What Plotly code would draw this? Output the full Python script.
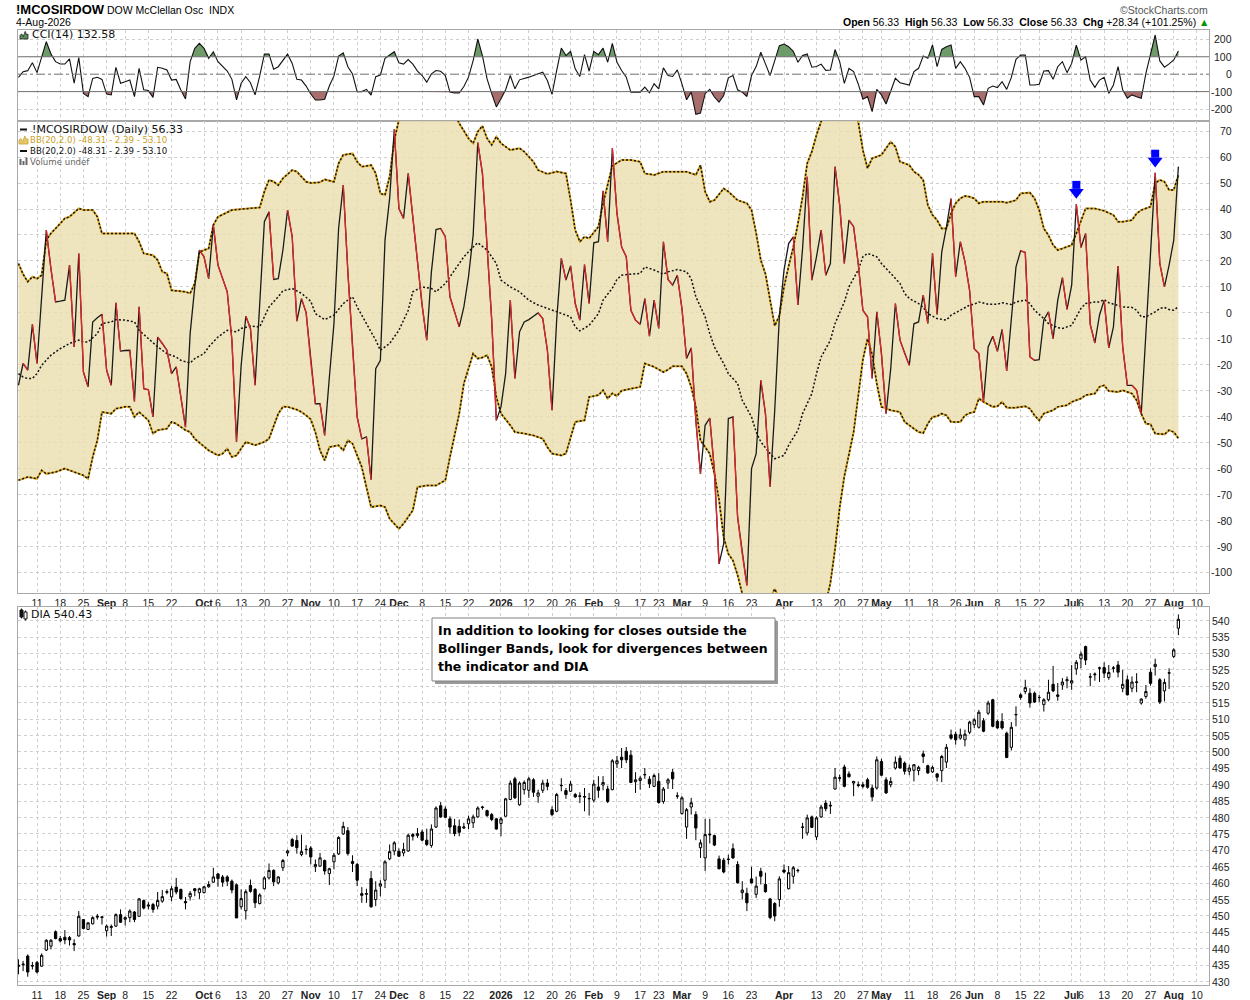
import pandas as pd
import plotly.graph_objects as go

# --- Canvas & margins (px) ---
W, H = 1250, 1000
ML, MR, MT, MB = 18, 41, 30, 15
PW, PH = W - ML - MR, H - MT - MB

# --- Trading calendar (NYSE holidays removed) ---
HOLIDAYS = ['2025-09-01', '2025-11-27', '2025-12-25', '2026-01-01', '2026-01-19',
            '2026-02-16', '2026-04-03', '2026-05-25', '2026-06-19', '2026-07-03']
CALENDAR = [d for d in pd.bdate_range('2025-08-05', '2026-08-14').strftime('%Y-%m-%d')
            if d not in HOLIDAYS]

TICK_DATES = ['2025-08-11', '2025-08-18', '2025-08-25', '2025-09-02', '2025-09-08', '2025-09-15',
              '2025-09-22', '2025-10-01', '2025-10-06', '2025-10-13', '2025-10-20', '2025-10-27',
              '2025-11-03', '2025-11-10', '2025-11-17', '2025-11-24', '2025-12-01', '2025-12-08',
              '2025-12-15', '2025-12-22', '2026-01-02', '2026-01-12', '2026-01-20', '2026-01-26',
              '2026-02-02', '2026-02-09', '2026-02-17', '2026-02-23', '2026-03-02', '2026-03-09',
              '2026-03-16', '2026-03-23', '2026-04-01', '2026-04-13', '2026-04-20', '2026-04-27',
              '2026-05-01', '2026-05-11', '2026-05-18', '2026-05-26', '2026-06-01', '2026-06-08',
              '2026-06-15', '2026-06-22', '2026-07-01', '2026-07-06', '2026-07-13', '2026-07-20',
              '2026-07-27', '2026-08-03', '2026-08-10']
TICK_LABELS = ['11', '18', '25', '<b>Sep</b>', '8', '15', '22', '<b>Oct</b>', '6', '13', '20', '27',
               '<b>Nov</b>', '10', '17', '24', '<b>Dec</b>', '8', '15', '22', '<b>2026</b>', '12', '20',
               '26', '<b>Feb</b>', '9', '17', '23', '<b>Mar</b>', '9', '16', '23', '<b>Apr</b>', '13',
               '20', '27', '<b>May</b>', '11', '18', '26', '<b>Jun</b>', '8', '15', '22', '<b>Jul</b>',
               '6', '13', '20', '27', '<b>Aug</b>', '10']

Y_TICKS_CCI = [200, 100, 0, -100, -200]
Y_TICKS_OSC = list(range(70, -101, -10))
Y_TICKS_DIA = list(range(540, 429, -5))

# --- McClellan Oscillator (daily close) ---
OSC = [-27.9, -19.5, -22.1, -4.4, -19.5, 8, 31.9, 17, 4.2, 4.5,
       4.9, 18.4, -13.1, 22.9, -22.8, -28.5, -3.5, -1.9, -0.5, -22.1,
       -27.9, 3.9, -14.7, -14.5, -14.4, -34.1, 2.3, -29.2, -29.6, -40.1,
       -9.3, -11.8, -14.4, -23.4, -20.8, -32.4, -44, -8, 10, 24.2,
       21.6, 13.2, 33.8, 18.4, 13.2, 8.1, -10.5, -49.7, -20.2, -1.3,
       -6, -27.9, 3.6, 35.1, 38.9, 12.9, 13.2, 24.2, 39.6, 29.3,
       -3.2, 5.5, 0.1, -19, -35, -35, -47.2, -25, -4.1, 32.5,
       49.2, 15.7, -13.4, -40.1, -48.5, -47.8, -64.3, -21.5, -18.3, 28,
       44.1, 70.7, 40.2, 36.4, 53.7, 36.8, 19.8, 3, -10.5, 15.8,
       32.1, 32.5, 29.3, 6.2, 0.4, -5.4, 2.3, 13.9, 29.9, 65.6,
       53.7, 26.1, -2.8, -41.4, -36.2, -23.4, 4.9, -25.3, -7.3, -3.5,
       -2.6, -1.3, 0, -2.2, -14.4, -37.5, -2.8, 21, 12.6, 18.1,
       3.6, -2.8, 18.6, 3.6, 27, 27.4, 47, 27.4, 63.4, 38.3,
       25.4, 21.6, 1, -2.8, -4.4, 5.5, -9, 4.9, -6, 27.4,
       12.9, 10.7, 14.5, 1.7, -17.6, -13.5, -41.4, -62, -43.3, -40.5,
       -60.7, -96.7, -88.9, -40.7, -40.1, -78.7, -92.8, -105, -60, -54.2,
       -26, -38.8, -67, -37.5, -1.5, 16.5, 26.7, 29.3, 3, 24.8,
       52.4, 12.6, 21.6, 31.9, 14.5, 19, 56.3, 41.5, 19, 35.7,
       33.2, 19, 1, -1.5, -25.3, 0.4, -15.7, -38.8, -21.5, 3.6,
       -10.5, -15.7, -20.2, -4.2, -3.5, 6.8, -4.1, 22.9, -0.6, 23.5,
       32.9, 44, 13.9, 27.4, 19.7, 8.7, -13.8, -15.7, -34.3, -13.1,
       -9, -14.8, -6.4, -22.4, -2.8, 17.7, 23.9, 23.3, -17, -18.3,
       -18, -2.6, 0.4, -9.9, 4.9, 13.6, 1.3, 10.7, 41.8, 25.2,
       30.6, -4.4, -11.6, -0.9, 4.9, -13.5, -5.4, 18, -13.1, -27.9,
       -27.9, -29.8, -38.8, -8, 23, 54, 19, 10, 18.4, 28,
       56.33]

# --- Bollinger Bands (20,2): (trading-day index, value) ---
BB_UPPER = [(0, 19), (1, 14.9), (2, 12), (3, 13.9), (4, 13.2), (5, 14.5), (6, 28), (7, 30.6), (9, 34.4),
            (10, 36.4), (11, 37), (13, 40.2), (14, 39.6), (16, 39.6), (17, 37), (18, 30.6), (20, 30.6),
            (25, 30.6), (26, 27.4), (27, 22.9), (29, 22.2), (30, 20.3), (31, 15.8), (32, 15.2), (33, 8.7),
            (36, 8.1), (37, 7.5), (38, 11.3), (39, 23.5), (41, 24.8), (42, 33.8), (43, 37), (46, 39.6),
            (49, 40.2), (52, 40.6), (53, 46.7), (54, 51.2), (55, 50.5), (56, 49.2), (57, 51.8), (59, 55),
            (60, 54.4), (61, 52.4), (62, 50.5), (63, 50), (65, 50.3), (66, 51.4), (68, 50.5), (69, 57.6),
            (70, 60.8), (72, 61.4), (73, 58.2), (74, 56.3), (76, 56.9), (77, 53.7), (78, 46), (79, 45.4),
            (80, 52.4), (81, 66.6), (82, 74.3), (84, 80), (86, 85), (88, 88), (91, 86), (93, 80), (95, 73),
            (97, 67.2), (98, 65.3), (99, 69.8), (100, 72), (101, 67.2), (102, 64.7), (103, 67.9),
            (104, 65.3), (106, 62.7), (108, 63.4), (109, 62.1), (111, 58.2), (112, 55), (114, 53.5),
            (116, 54.4), (118, 53.7), (119, 43.4), (120, 31.9), (121, 27.4), (122, 29.3), (123, 28.7),
            (125, 33.2), (126, 42.2), (127, 49), (128, 56.6), (130, 58.9), (132, 58.9), (134, 58.2),
            (135, 53.7), (137, 53.1), (139, 54.4), (142, 54.4), (144, 54.4), (146, 53.1), (147, 56.9),
            (148, 46.7), (149, 42.8), (150, 43.4), (152, 47.9), (153, 46.7), (155, 43.4), (157, 42.2),
            (158, 39.6), (159, 30.6), (160, 20.3), (161, 15), (162, 5), (163, -5), (164, -1), (165, 10),
            (166, 18), (167, 25.4), (168, 34.4), (169, 44.7), (170, 57.6), (171, 62.1), (172, 68.5),
            (173, 73.7), (175, 80), (177, 83), (179, 80), (181, 73.7), (182, 62.7), (183, 55.7),
            (184, 59.5), (186, 60.8), (187, 63.4), (188, 65.9), (189, 64), (190, 58.2), (191, 57.6),
            (192, 56.9), (193, 54.4), (194, 53.2), (195, 51.2), (196, 41.5), (197, 37.7), (198, 35.7),
            (199, 32.5), (200, 32.5), (201, 38.3), (202, 42.2), (203, 44.1), (204, 45), (205, 44.7),
            (206, 44.1), (207, 42.2), (208, 42.8), (210, 42.8), (212, 42.8), (213, 42.4), (214, 42.8),
            (215, 43.4), (216, 46), (218, 46.3), (219, 44.1), (220, 39.6), (221, 32.5), (222, 29.9),
            (223, 26.1), (224, 24.2), (225, 24.8), (227, 26.1), (228, 30.6), (229, 35.7), (230, 40.2),
            (232, 40.2), (233, 39.6), (234, 39.3), (236, 37.7), (237, 35.1), (238, 35.1), (240, 35.7),
            (241, 38.3), (242, 39.6), (244, 40.9), (245, 49.9), (246, 51.2), (247, 50.5), (248, 47.3),
            (249, 47.3), (250, 53.1)]

BB_MIDDLE = [(0, -23.4), (1, -24.7), (2, -25.3), (3, -25.3), (4, -23.4), (5, -20.2), (7, -16.3), (9, -13.8),
             (11, -11.8), (13, -10.5), (14, -11.2), (15, -11.2), (17, -8), (18, -4.1), (20, -3.5),
             (21, -2.6), (23, -2.8), (25, -3.5), (26, -6.7), (28, -9.9), (29, -11.8), (30, -13.1),
             (32, -15.7), (34, -17), (35, -18.3), (37, -19.3), (38, -17.6), (40, -15.7), (41, -13.1),
             (43, -9.3), (45, -6.7), (47, -7.3), (48, -6), (50, -5.1), (52, -5.4), (53, -1.5), (54, 2.3),
             (56, 6.2), (57, 8.5), (59, 9.4), (61, 7.5), (63, 4.5), (64, -0.3), (66, -2.6), (68, -0.9),
             (70, 3.6), (72, 6.2), (73, 2.3), (75, -4.1), (77, -10.5), (78, -14.4), (80, -11.8),
             (82, -6.7), (84, 1), (85, 8.1), (87, 10), (89, 9.4), (90, 8.1), (92, 11.3), (94, 16.5),
             (96, 21.6), (98, 25.4), (99, 27), (101, 24.2), (103, 19), (104, 12.6), (106, 10), (108, 8.1),
             (110, 4.9), (112, 3), (115, 1), (117, -0.3), (119, -1.5), (120, -5.4), (121, -6.9),
             (123, -4.8), (125, -0.3), (126, 4.9), (128, 9.5), (129, 12.9), (130, 14.5), (132, 14.9),
             (134, 15.2), (135, 17.7), (137, 16.5), (139, 14.9), (140, 15.8), (142, 16.7), (144, 15.8),
             (145, 13.2), (146, 6.2), (148, -1.5), (149, -8), (150, -13.1), (152, -19.5), (153, -23.4),
             (155, -27.2), (156, -33.7), (158, -40.1), (159, -45.9), (160, -49.7), (162, -54.2),
             (163, -56.2), (165, -54.9), (166, -51), (168, -45.2), (169, -38.8), (171, -31.1),
             (172, -23.4), (173, -17), (175, -10.5), (176, -4.1), (178, 4.2), (179, 10), (181, 16.5),
             (182, 21.6), (183, 22.9), (185, 21.6), (186, 19), (188, 15.2), (190, 11.3), (191, 7.5),
             (192, 5.5), (194, 3.6), (195, 2.1), (196, -0.3), (198, -2.2), (200, -2.8), (201, -0.9),
             (203, 1), (205, 3), (206, 3.3), (207, 4.2), (209, 3.3), (211, 3.3), (212, 3.9), (214, 3.2),
             (215, 4.2), (217, 4.9), (218, 3.6), (219, 1), (221, -2.2), (222, -4.1), (224, -5.7),
             (225, -6), (227, -4.8), (228, -1.5), (229, 1.7), (230, 3.6), (232, 4.2), (233, 4.2),
             (234, 5.1), (235, 3.9), (237, 3), (238, 2.3), (240, 2.1), (241, 1), (242, -1.5), (243, -1.5),
             (245, 0.4), (246, 1.7), (247, 2.1), (248, 1.3), (249, 1), (250, 2.39)]

BB_LOWER = [(0, -64.5), (1, -63.9), (2, -63.2), (4, -63.9), (5, -60.7), (6, -62), (8, -61.3), (10, -60),
            (12, -61.3), (14, -62.6), (15, -63.9), (16, -55.5), (17, -49.1), (18, -38.2), (20, -38.8),
            (21, -36.9), (23, -36.2), (24, -36.2), (25, -40.1), (26, -38.2), (28, -41.4), (29, -46.5),
            (30, -45.2), (32, -44.6), (33, -42), (34, -42.7), (36, -45.2), (37, -45.9), (38, -48.5),
            (40, -51.7), (41, -53), (43, -54.9), (44, -54.2), (45, -52.3), (46, -55.5), (47, -54.9),
            (48, -52.3), (49, -49.7), (51, -51), (53, -49.7), (54, -48.5), (56, -38.8), (57, -36.2),
            (58, -36.2), (60, -37.3), (61, -38.2), (62, -39.5), (63, -41), (64, -46), (65, -53),
            (66, -56.8), (67, -51.7), (69, -51), (70, -53), (71, -49.1), (72, -50.4), (74, -59.4),
            (75, -67.1), (76, -74.8), (78, -74.2), (79, -74.8), (80, -79.3), (82, -83.2), (83, -81.2),
            (85, -76.1), (86, -67.1), (88, -66.5), (90, -66.5), (92, -64.5), (93, -55.5), (95, -38.8),
            (96, -27.2), (98, -15.7), (99, -17.6), (100, -17.2), (101, -16.3), (102, -20.8), (103, -32.4),
            (104, -38.8), (106, -43.3), (107, -45.9), (109, -46.5), (111, -47.2), (113, -48.5),
            (114, -51.7), (115, -54.2), (117, -54.9), (118, -54.2), (119, -47.8), (120, -42), (122, -41.4),
            (123, -32.4), (125, -31.7), (126, -29.8), (127, -33), (128, -31), (129, -32), (130, -30),
            (132, -29.2), (134, -28.5), (135, -19.5), (137, -20.8), (139, -22.8), (140, -21.9),
            (141, -20.6), (143, -20.6), (144, -23.4), (145, -28.5), (146, -36.2), (147, -49.1),
            (148, -51.7), (149, -54.2), (150, -62), (151, -72), (152, -86.4), (153, -92.8), (154, -95.4),
            (155, -101), (156, -108.2), (158, -114), (160, -114), (162, -110), (163, -106.3), (164, -110),
            (166, -120), (168, -127), (170, -127), (172, -122), (174, -112), (175, -104), (176, -91),
            (177, -75), (178, -63), (179, -55), (180, -46), (181, -32), (182, -18), (183, -10), (184, -16),
            (185, -27.2), (186, -36.2), (188, -37.5), (190, -38.2), (191, -42), (193, -44.6), (194, -45.9),
            (195, -46.3), (196, -42.7), (197, -40.1), (198, -39.8), (199, -38.8), (200, -39.5), (201, -42),
            (203, -42), (204, -39.5), (205, -38.6), (206, -38.2), (207, -33), (208, -34.3), (210, -36.2),
            (211, -36), (212, -34.3), (213, -36.5), (215, -36.5), (217, -36), (218, -36.9), (219, -39.5),
            (220, -41.4), (221, -38.8), (223, -37.5), (224, -36.2), (226, -35.6), (227, -34.3), (229, -33),
            (230, -31.7), (232, -31.1), (233, -28.5), (234, -27.9), (235, -30.1), (237, -30.5),
            (238, -29.8), (240, -31.1), (241, -33.7), (242, -38.8), (243, -42.7), (244, -42.9),
            (245, -46.5), (247, -46.8), (248, -45.2), (249, -45.9), (250, -48.31)]

# --- CCI(14) ---
CCI = [-18, 14.5, 20.3, 66, 9, 101, 187, 116, 72, 58.5,
       58.5, 88, -52, 95, -110, -129, -24, -18, -29.8, -114,
       -119, 39.4, -52, -43, -33.7, -129, 33.3, -90, -94, -133,
       39.4, 33.7, 24, -33.7, -30, -91, -142, 71, 148, 177,
       148, 91, 129, 72, 47, 18.4, -29.5, -148, -52, -14.5,
       -48.9, -119, -10, 115, 115, 28.9, 43, 81, 115, 62,
       -29.8, -33.7, -68, -114, -148, -148, -144, -68, -10, 104,
       123, 43, 1, -100, -100, -87, -120, -14.5, -4.6, 91,
       110, 129, 65, 58, 84, 58, 18, -7.6, -45.7, 1.9,
       21, 17, -7.6, -103, -108, -108, -70.5, -17, 78, 202,
       107, -26.7, -112, -188, -141, -89.5, -7.6, -84, -32.4, -26.7,
       -17, -7.6, 1.9, 11.4, -36.2, -116, 21, 150, 107, 131,
       30.5, -13.3, 112, 17, 131, 112, 150, 68.6, 177, 68.6,
       21, -17, -103, -103, -103, -74.3, -106, -55.2, -83.8, 36.2,
       -7.6, -13.3, 24.8, -55.2, -147, -103, -230, -223, -112, -87.6,
       -131, -160, -122, -21, -7.6, -89.5, -103, -128, -7.6, 43.8,
       126, 59, -7.6, 78, 164, 173, 158, 131, 68.6, 107,
       116, 40, 43.8, 58, 22, 24, 141.6, 72, -52.8, 33,
       14.5, -56, -144, -129, -215, -87, -119, -171, -94, -23.7,
       -48.6, -56, -62, 14.5, 33.7, 104, 91, 168, 43, 142,
       158, 168, 33.7, 72, 33.7, -18, -129, -129, -177, -81,
       -68, -77, -43, -87, -18, 85, 110, 110, -62, -62,
       -58, 18.4, 20.3, -29.5, 43, 72, 8.8, 62, 167, 81,
       100, -33.7, -75.8, -33.7, -18, -110, -62, 43, -90, -138,
       -119, -129, -138, 5, 120, 225, 76, 40.4, 59, 82,
       132.58]

# --- DIA daily OHLC ---
DIA_OPEN = [435.0, 435.1, 437.8, 434.7, 435.8, 434.7, 439.6, 440.8, 445.2, 443.1,
            443.5, 443.4, 441.6, 443.9, 448.9, 445.9, 447.6, 449.9, 449.5, 445.5,
            446.5, 446.9, 450.4, 449.0, 449.5, 451.2, 449.9, 454.7, 453.0, 453.5,
            453.0, 454.5, 457.2, 455.8, 458.8, 458.1, 454.4, 455.8, 458.3, 457.1,
            457.1, 458.9, 460.3, 462.8, 461.9, 461.9, 460.6, 459.5, 452.8, 451.6,
            459.3, 458.1, 453.8, 458.3, 461.6, 463.9, 460.1, 464.7, 469.2, 473.3,
            473.0, 468.7, 470.2, 470.7, 465.0, 465.2, 466.9, 462.9, 466.5, 468.9,
            475.0, 476.0, 466.6, 465.7, 456.8, 456.6, 461.4, 455.0, 459.1, 460.9,
            467.4, 469.8, 469.7, 469.2, 469.8, 474.8, 474.5, 475.6, 473.1, 471.5,
            477.1, 483.6, 482.6, 479.6, 477.5, 477.3, 476.8, 478.1, 478.4, 480.2,
            483.2, 482.1, 480.9, 479.6, 478.2, 480.4, 485.5, 491.8, 483.9, 488.5,
            488.3, 491.5, 486.5, 488.3, 490.5, 482.4, 481.9, 489.7, 488.2, 488.0,
            487.0, 486.6, 486.2, 485.7, 485.3, 489.3, 489.9, 488.7, 488.5, 496.4,
            498.4, 500.2, 499.0, 490.9, 491.3, 493.0, 491.7, 489.5, 491.0, 484.9,
            490.5, 493.8, 486.5, 481.2, 477.1, 483.2, 480.9, 470.8, 467.7, 474.7,
            474.5, 467.4, 467.0, 467.2, 470.5, 465.7, 457.1, 456.9, 461.3, 456.6,
            463.6, 459.6, 455.2, 453.8, 455.0, 464.0, 458.3, 462.1, 463.8, 477.0,
            475.3, 480.2, 474.1, 480.2, 484.4, 483.5, 488.7, 492.1, 495.4, 493.3,
            490.5, 490.0, 490.0, 491.5, 489.0, 489.0, 497.1, 491.5, 490.0, 495.1,
            498.1, 496.6, 494.1, 494.4, 494.3, 499.4, 495.8, 493.9, 493.3, 494.3,
            496.9, 505.2, 505.4, 504.2, 503.7, 506.0, 508.3, 507.5, 509.5, 511.8,
            515.9, 509.3, 509.3, 505.7, 501.4, 511.3, 517.4, 518.4, 517.9, 517.9,
            516.6, 514.4, 515.9, 520.6, 516.9, 520.4, 521.7, 521.0, 525.3, 528.4,
            532.1, 522.8, 523.5, 525.5, 525.7, 522.7, 525.5, 526.5, 519.4, 522.0,
            519.4, 521.2, 514.9, 516.9, 524.3, 526.0, 522.0, 518.6, 524.0, 529.1,
            537.7]
DIA_HIGH = [436.8, 436.3, 438.3, 436.0, 436.3, 438.6, 442.9, 442.9, 445.6, 443.9,
            445.7, 443.9, 442.9, 451.5, 449.1, 448.1, 449.9, 450.6, 449.9, 447.4,
            447.4, 450.8, 452.0, 449.9, 452.0, 451.5, 455.5, 455.0, 454.2, 454.0,
            457.3, 457.9, 458.1, 459.1, 461.6, 458.3, 455.8, 457.6, 458.5, 458.6,
            459.1, 460.6, 464.7, 463.1, 462.5, 462.4, 461.1, 459.9, 458.1, 458.1,
            461.1, 458.5, 456.9, 462.1, 466.0, 464.2, 462.1, 467.4, 470.2, 473.8,
            474.6, 474.8, 471.6, 471.3, 467.2, 469.2, 467.2, 464.7, 469.2, 474.3,
            478.7, 477.1, 468.5, 466.2, 458.8, 458.3, 463.7, 460.6, 460.9, 467.0,
            471.8, 472.8, 470.6, 472.3, 475.1, 475.3, 476.8, 476.3, 476.6, 477.9,
            483.4, 484.7, 483.4, 480.4, 479.6, 479.4, 478.4, 480.6, 480.9, 483.4,
            483.6, 482.4, 481.4, 479.9, 480.2, 486.0, 491.3, 492.4, 491.0, 491.3,
            492.4, 492.0, 488.5, 491.5, 491.7, 483.4, 487.5, 492.0, 489.0, 491.2,
            487.5, 487.7, 489.0, 487.5, 491.5, 492.6, 492.6, 489.7, 497.8, 498.8,
            501.2, 501.5, 500.5, 493.8, 492.6, 495.1, 492.6, 493.4, 493.6, 489.3,
            492.0, 494.8, 487.7, 486.5, 482.9, 486.0, 481.9, 473.3, 479.6, 479.6,
            474.8, 468.4, 467.7, 468.7, 472.1, 466.7, 460.6, 458.6, 465.0, 462.0,
            464.7, 463.2, 455.5, 454.2, 462.1, 465.7, 465.2, 465.2, 464.4, 478.4,
            480.9, 480.6, 480.4, 483.9, 485.3, 484.9, 495.1, 493.1, 496.1, 494.1,
            491.2, 491.0, 490.8, 492.1, 490.0, 498.6, 497.9, 492.3, 492.3, 498.6,
            498.9, 497.1, 496.1, 496.3, 495.8, 500.4, 496.1, 495.8, 493.6, 499.1,
            502.4, 506.8, 506.2, 507.1, 506.8, 509.5, 510.3, 512.8, 510.3, 515.6,
            516.2, 509.8, 511.8, 506.2, 509.1, 513.9, 517.9, 522.0, 519.4, 518.4,
            517.4, 516.4, 522.0, 526.2, 521.0, 522.5, 523.0, 526.5, 528.0, 530.6,
            532.4, 524.0, 524.2, 526.0, 527.3, 526.5, 526.2, 527.7, 525.0, 523.3,
            523.0, 524.0, 516.4, 520.4, 525.5, 528.4, 522.5, 522.3, 525.5, 531.6,
            541.9]
DIA_LOW = [432.2, 433.2, 431.5, 433.7, 432.5, 434.5, 439.3, 439.8, 442.9, 441.9,
           441.4, 441.0, 439.3, 443.7, 445.9, 445.7, 447.4, 448.9, 447.4, 443.7,
           443.9, 446.7, 447.9, 447.1, 448.1, 448.1, 449.8, 452.0, 452.0, 451.0,
           452.0, 454.0, 456.6, 454.5, 456.6, 455.0, 452.0, 454.7, 456.0, 455.2,
           456.9, 458.6, 460.1, 458.9, 458.9, 459.1, 456.9, 449.4, 452.0, 448.9,
           457.1, 452.4, 453.5, 458.1, 461.1, 459.1, 459.6, 463.7, 468.2, 471.1,
           469.0, 468.2, 468.7, 465.7, 463.4, 465.0, 462.6, 459.4, 464.2, 468.6,
           474.7, 468.4, 463.4, 459.1, 454.0, 454.0, 452.5, 453.0, 456.0, 458.5,
           467.0, 468.5, 468.0, 468.2, 469.6, 473.0, 473.8, 472.8, 471.3, 470.8,
           476.8, 479.9, 479.9, 475.1, 474.3, 474.3, 476.5, 476.5, 476.8, 479.9,
           482.4, 480.2, 478.9, 476.3, 474.3, 480.2, 485.3, 485.7, 483.6, 487.0,
           486.0, 486.3, 484.5, 487.5, 488.3, 480.4, 481.6, 488.0, 485.7, 487.8,
           486.0, 484.4, 481.9, 480.6, 484.6, 486.0, 488.3, 484.4, 488.3, 495.1,
           495.1, 496.6, 490.5, 487.5, 488.5, 491.8, 489.0, 489.3, 484.2, 484.2,
           488.7, 488.7, 485.7, 480.9, 473.5, 480.9, 473.1, 467.7, 463.7, 472.1,
           471.3, 464.2, 463.0, 465.7, 467.4, 459.9, 455.0, 451.5, 459.9, 455.5,
           459.6, 457.1, 449.0, 448.4, 452.8, 463.0, 458.1, 459.9, 463.2, 473.5,
           474.5, 476.8, 473.1, 479.9, 481.9, 481.1, 488.5, 491.0, 489.2, 492.3,
           486.5, 489.2, 488.9, 488.8, 485.0, 488.5, 492.6, 487.2, 489.2, 494.6,
           494.9, 493.1, 492.9, 491.0, 492.9, 496.6, 493.3, 493.6, 491.0, 490.8,
           495.1, 503.7, 502.2, 503.7, 501.7, 505.4, 507.3, 507.1, 506.0, 511.3,
           507.5, 507.1, 506.8, 498.1, 500.4, 507.8, 515.9, 517.6, 513.5, 514.9,
           515.2, 512.3, 515.4, 518.2, 515.6, 518.9, 519.4, 518.9, 523.5, 525.5,
           526.5, 520.0, 521.7, 521.3, 522.5, 522.0, 524.2, 522.7, 518.2, 517.2,
           518.2, 518.2, 514.4, 516.2, 520.2, 523.3, 514.6, 515.4, 519.2, 528.6,
           535.6]
DIA_CLOSE = [434.7, 435.3, 432.9, 434.9, 432.9, 438.0, 442.6, 442.6, 443.1, 442.4,
             442.7, 442.7, 441.2, 449.9, 446.2, 447.9, 449.5, 449.7, 449.7, 446.9,
             446.8, 450.4, 448.1, 449.5, 451.5, 448.9, 455.2, 452.4, 453.3, 452.0,
             454.7, 455.9, 457.4, 458.3, 457.3, 455.3, 454.0, 456.9, 457.7, 458.3,
             458.9, 459.6, 461.9, 461.4, 460.3, 460.6, 457.9, 449.4, 455.3, 457.4,
             457.5, 454.0, 456.4, 461.6, 463.9, 460.4, 461.9, 466.9, 469.8, 471.3,
             470.8, 469.6, 470.3, 468.0, 465.7, 467.7, 463.7, 464.4, 468.5, 473.9,
             477.3, 469.0, 466.0, 460.9, 456.3, 456.8, 452.8, 457.9, 459.8, 466.5,
             469.6, 472.3, 468.2, 470.3, 474.6, 474.3, 475.1, 473.1, 471.8, 476.5,
             482.9, 480.2, 480.1, 477.1, 475.1, 475.5, 477.1, 479.6, 480.2, 482.9,
             483.1, 480.6, 479.4, 476.5, 479.6, 485.7, 490.5, 486.0, 490.5, 490.7,
             491.8, 487.7, 487.5, 490.5, 489.5, 480.9, 487.0, 489.8, 487.0, 490.2,
             486.3, 486.5, 486.4, 485.8, 490.2, 488.3, 490.7, 484.9, 497.3, 497.3,
             497.6, 497.6, 490.7, 491.5, 492.0, 493.1, 490.3, 492.8, 484.6, 488.7,
             491.5, 491.8, 486.6, 486.0, 482.4, 484.5, 476.8, 472.3, 474.8, 474.9,
             471.6, 464.4, 463.4, 467.3, 467.7, 460.1, 457.9, 454.0, 460.1, 459.1,
             462.1, 457.4, 449.5, 450.0, 461.3, 463.4, 463.2, 464.7, 463.9, 477.1,
             479.9, 477.0, 479.9, 483.2, 482.7, 483.7, 492.3, 492.0, 489.5, 492.4,
             491.0, 489.8, 489.5, 489.2, 486.3, 497.6, 492.9, 487.5, 491.0, 496.9,
             495.1, 494.1, 495.1, 496.1, 495.3, 498.6, 493.6, 495.3, 492.3, 498.6,
             501.4, 504.2, 503.7, 505.2, 505.4, 509.1, 509.8, 512.1, 506.3, 514.9,
             507.8, 507.3, 507.3, 498.3, 507.5, 511.4, 516.6, 519.6, 514.9, 515.2,
             516.6, 515.9, 518.2, 518.6, 517.4, 521.3, 522.0, 521.7, 527.3, 529.8,
             528.0, 522.9, 523.7, 525.6, 524.0, 524.2, 525.6, 524.3, 520.6, 517.4,
             521.3, 521.3, 516.1, 518.4, 520.9, 526.7, 515.2, 521.2, 524.1, 531.1,
             540.43]

# Blue marker arrows (day index, value of arrow tip)
ARROW_DAYS = [228, 245]
ARROW_TIPS = [44, 56]

BOX_LINES = ['In addition to looking for closes outside the',
             'Bollinger Bands, look for divergences between',
             'the indicator and DIA']

assert len(OSC) == len(CCI) == len(DIA_OPEN) == len(DIA_HIGH) == len(DIA_LOW) == len(DIA_CLOSE)

N = len(OSC)
DAYS = CALENDAR[:N]
X = list(range(N))
TICK_POS = [CALENDAR.index(d) for d in TICK_DATES]


# --- helpers: pixel -> paper coordinates ---
def fx(px):
    return (px - ML) / PW


def fy(py):
    return (H - MB - py) / PH


def unpack(pairs):
    return [p[0] for p in pairs], [p[1] for p in pairs]


# panel pixel boundaries
CCI_TOP, CCI_BOT = MT, 121
OSC_TOP, OSC_BOT = 121, 593
DIA_TOP, DIA_BOT = 607, H - MB
CCI_RANGE = [-268.7, 253.7]
OSC_RANGE = [-107.9, 73.9]
DIA_RANGE = [428.96, 544.17]
X_RANGE = [-0.1, 256.6]

GOLD = '#D9A521'
RED = '#E3242B'
INK = '#111111'
UI_FONT = 'DejaVu Sans'
AX_FONT = 'Liberation Sans'

fig = go.Figure()

# --- Panel 1: CCI with shaded extremes ---
def clipped(level, above):
    xs, ys = [], []
    for k, v in enumerate(CCI):
        if k and (CCI[k - 1] - level) * (v - level) < 0:
            xs.append(k - 1 + (level - CCI[k - 1]) / (v - CCI[k - 1]))
            ys.append(level)
        xs.append(k)
        ys.append(max(v, level) if above else min(v, level))
    return xs, ys


for level, above, color in [(100, True, '#6F9A6A'), (-100, False, '#A86E6E')]:
    xs, ys = clipped(level, above)
    fig.add_trace(go.Scatter(x=xs, y=[level] * len(xs), mode='lines', line=dict(width=0),
                             xaxis='x', yaxis='y', hoverinfo='skip'))
    fig.add_trace(go.Scatter(x=xs, y=ys, mode='lines', line=dict(width=0), fill='tonexty',
                             fillcolor=color, xaxis='x', yaxis='y', hoverinfo='skip'))

fig.add_trace(go.Scatter(x=X, y=CCI, mode='lines', line=dict(color=INK, width=1.1),
                         xaxis='x', yaxis='y', customdata=DAYS))

# --- Panel 2: McClellan Oscillator + Bollinger Bands ---
lo_x, lo_y = unpack(BB_LOWER)
up_x, up_y = unpack(BB_UPPER)
mid_x, mid_y = unpack(BB_MIDDLE)

fig.add_trace(go.Scatter(x=lo_x, y=lo_y, mode='lines', line=dict(color=GOLD, width=2),
                         xaxis='x2', yaxis='y2', hoverinfo='skip'))
fig.add_trace(go.Scatter(x=up_x, y=up_y, mode='lines', line=dict(color=GOLD, width=2),
                         fill='tonexty', fillcolor='rgba(234,222,174,0.8)',
                         xaxis='x2', yaxis='y2', hoverinfo='skip'))
for bx, by in [(lo_x, lo_y), (up_x, up_y), (mid_x, mid_y)]:
    fig.add_trace(go.Scatter(x=bx, y=by, mode='lines',
                             line=dict(color=INK, width=1.5, dash='2px,2px'),
                             xaxis='x2', yaxis='y2', hoverinfo='skip'))

# oscillator: black line, red where it falls from the prior day
fig.add_trace(go.Scatter(x=X, y=OSC, mode='lines', line=dict(color='#1A1A1A', width=1.3),
                         xaxis='x2', yaxis='y2', customdata=DAYS))
dn_x, dn_y = [], []
for k in range(1, N):
    if OSC[k] < OSC[k - 1]:
        dn_x += [k - 1, k, None]
        dn_y += [OSC[k - 1], OSC[k], None]
fig.add_trace(go.Scatter(x=dn_x, y=dn_y, mode='lines', line=dict(color=RED, width=1.3),
                         connectgaps=False, xaxis='x2', yaxis='y2', hoverinfo='skip'))

# blue arrows (head + stem), offsets in pixels converted through the axis scale
px_per_unit = (OSC_BOT - OSC_TOP) / (OSC_RANGE[1] - OSC_RANGE[0])
head_size, stem_size = 13, 8
head_y = [t + (head_size / 2) / px_per_unit for t in ARROW_TIPS]
stem_y = [h + (head_size / 4 + stem_size / 2) / px_per_unit for h in head_y]
fig.add_trace(go.Scatter(x=ARROW_DAYS, y=stem_y, mode='markers',
                         marker=dict(symbol='square', size=stem_size, color='#0000FF', line=dict(width=0)),
                         xaxis='x2', yaxis='y2', hoverinfo='skip'))
fig.add_trace(go.Scatter(x=ARROW_DAYS, y=head_y, mode='markers',
                         marker=dict(symbol='triangle-down', size=head_size, color='#0000FF',
                                     line=dict(width=0)),
                         xaxis='x2', yaxis='y2', hoverinfo='skip'))

# --- Panel 3: DIA candlesticks ---
fig.add_trace(go.Candlestick(x=X, open=DIA_OPEN, high=DIA_HIGH, low=DIA_LOW, close=DIA_CLOSE,
                             increasing=dict(line=dict(color='black', width=1), fillcolor='white'),
                             decreasing=dict(line=dict(color='black', width=1), fillcolor='black'),
                             whiskerwidth=0, xaxis='x3', yaxis='y3', text=DAYS))

# --- Axes ---
AX = dict(showgrid=True, gridcolor='#CFCFCF', griddash='dot', gridwidth=1, zeroline=False,
          showline=True, mirror=True, linecolor='#A8A8A8', linewidth=1, ticks='', fixedrange=True,
          automargin=False)
XCOMMON = dict(AX, range=X_RANGE, autorange=False, tickmode='array', tickvals=TICK_POS,
               ticktext=TICK_LABELS, tickangle=0,
               tickfont=dict(family=AX_FONT, size=10.5, color='#222'))


def dom(top, bot):
    return [fy(bot), fy(top)]


fig.update_layout(
    width=W, height=H, margin=dict(l=ML, r=MR, t=MT, b=MB, autoexpand=False),
    paper_bgcolor='white', plot_bgcolor='white', showlegend=False,
    font=dict(family=AX_FONT, color='#222'),
    xaxis=dict(XCOMMON, anchor='y', showticklabels=False),
    xaxis2=dict(XCOMMON, anchor='y2'),
    xaxis3=dict(XCOMMON, anchor='y3', rangeslider=dict(visible=False)),
    yaxis=dict(AX, domain=dom(CCI_TOP, CCI_BOT), range=CCI_RANGE, tickvals=[-200, 200],
               showticklabels=False, side='right', anchor='x'),
    yaxis2=dict(AX, domain=dom(OSC_TOP, OSC_BOT), range=OSC_RANGE, tickvals=Y_TICKS_OSC,
                showticklabels=False, side='right', anchor='x2'),
    yaxis3=dict(AX, domain=dom(DIA_TOP, DIA_BOT), range=DIA_RANGE, tickvals=Y_TICKS_DIA,
                showticklabels=False, side='right', anchor='x3'),
)

shapes = []
# CCI reference lines
for lvl, dash in [(100, 'solid'), (-100, 'solid'), (0, 'dashdot')]:
    shapes.append(dict(type='line', xref='paper', yref='y', x0=0, x1=1, y0=lvl, y1=lvl,
                       line=dict(color='#6E6E6E', width=1, dash=dash), layer='above'))

# legend icons
def mountain(x0, y0, x1, y1, fill, edge):
    pts = [(0, 1), (0, 0.55), (0.2, 0.35), (0.4, 0.7), (0.65, 0.05), (0.85, 0.5), (1, 0.4), (1, 1)]
    path = ' '.join(('M' if i == 0 else 'L') + f'{fx(x0 + a * (x1 - x0)):.5f},{fy(y0 + b * (y1 - y0)):.5f}'
                    for i, (a, b) in enumerate(pts)) + ' Z'
    return dict(type='path', xref='paper', yref='paper', path=path, fillcolor=fill,
                line=dict(color=edge, width=0.8), layer='above')


shapes.append(mountain(20, 31, 28, 39, '#5E8C5E', '#222'))
shapes.append(mountain(19, 135.5, 28, 144, '#E6C76E', '#C9A227'))
for y in (129.5, 151):
    shapes.append(dict(type='line', xref='paper', yref='paper', x0=fx(20), x1=fx(27),
                       y0=fy(y), y1=fy(y), line=dict(color=INK, width=2), layer='above'))
for bx0, btop in [(19.5, 159), (22.5, 161), (25.5, 157.5)]:
    shapes.append(dict(type='rect', xref='paper', yref='paper', x0=fx(bx0), x1=fx(bx0 + 2),
                       y0=fy(165), y1=fy(btop), fillcolor='#666', line=dict(width=0), layer='above'))
for cx, t, b, f in [(21.5, 610, 617, '#111'), (25.5, 612, 619, 'white')]:
    shapes.append(dict(type='line', xref='paper', yref='paper', x0=fx(cx), x1=fx(cx),
                       y0=fy(t - 1.5), y1=fy(b + 1.5), line=dict(color='#111', width=1), layer='above'))
    shapes.append(dict(type='rect', xref='paper', yref='paper', x0=fx(cx - 1.5), x1=fx(cx + 1.5),
                       y0=fy(b), y1=fy(t), fillcolor=f, line=dict(color='#111', width=1), layer='above'))

# comment box with drop shadow
shapes.append(dict(type='rect', xref='paper', yref='paper', x0=fx(435), x1=fx(778), y0=fy(684), y1=fy(621),
                   fillcolor='#9A9A9A', line=dict(width=0), layer='above'))
shapes.append(dict(type='rect', xref='paper', yref='paper', x0=fx(432), x1=fx(775), y0=fy(681), y1=fy(618),
                   fillcolor='white', line=dict(color='#808080', width=1), layer='above'))
fig.update_layout(shapes=shapes)

ann = []


def text(px, py, s, size, color='#111', family=AX_FONT, anchor='left', **kw):
    ann.append(dict(x=fx(px), y=fy(py), xref='paper', yref='paper', text=s, showarrow=False,
                    xanchor=anchor, yanchor='middle', font=dict(family=family, size=size, color=color),
                    borderpad=0, **kw))


# header
text(15, 10, '<b>!MCOSIRDOW</b>', 13, '#000')
text(106, 10.5, 'DOW McClellan Osc&nbsp;&nbsp;INDX', 10.5, '#000')
text(15, 22.5, '4-Aug-2026', 10.5, '#000')
text(1209, 10, '©StockCharts.com', 10.5, '#555', anchor='right')
text(1210, 22.5, '<b>Open</b> 56.33&nbsp; <b>High</b> 56.33&nbsp; <b>Low</b> 56.33&nbsp; '
     '<b>Close</b> 56.33&nbsp; <b>Chg</b> +28.34 (+101.25%) <span style="color:#009a00">▲</span>',
     10.5, '#000', anchor='right')

# panel legends
text(31, 35, 'CCI(14) 132.58', 11, '#111', UI_FONT)
text(31, 129.5, '!MCOSIRDOW (Daily) 56.33', 11, '#111', UI_FONT)
text(29, 140, 'BB(20,2.0) -48.31 - 2.39 - 53.10', 8.6, '#C9A227', UI_FONT)
text(29, 151, 'BB(20,2.0) -48.31 - 2.39 - 53.10', 8.6, '#111', UI_FONT)
text(29, 161.5, 'Volume undef', 8.6, '#666', UI_FONT)
text(30, 614, 'DIA 540.43', 11, '#111', UI_FONT)

# comment box text
for k, line in enumerate(BOX_LINES):
    text(437, 630 + 18 * k, '<b>' + line + '</b>', 12.5, '#000', UI_FONT)

# right-aligned y tick labels, placed through each axis scale
for vals, yref, right in [(Y_TICKS_CCI, 'y', 1233), (Y_TICKS_OSC, 'y2', 1233), (Y_TICKS_DIA, 'y3', 1231)]:
    for v in vals:
        ann.append(dict(x=fx(right), xref='paper', y=v, yref=yref, text=str(v), showarrow=False,
                        xanchor='right', yanchor='middle', borderpad=0,
                        font=dict(family=AX_FONT, size=10.5, color='#222')))

fig.update_layout(annotations=ann)

# the page's default body margin would shift the figure; pin it to the top-left corner
fig.write_html("out.html", config={'displayModeBar': False},
               post_script="document.body.style.margin='0';")
